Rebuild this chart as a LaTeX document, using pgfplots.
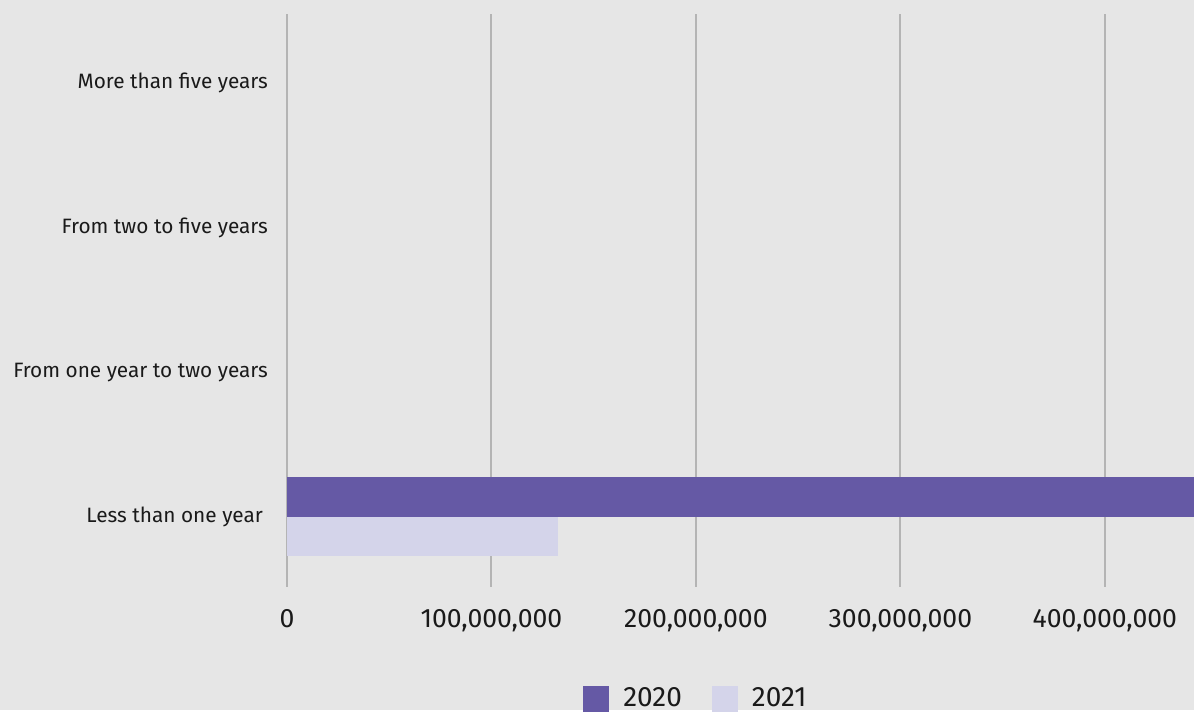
\documentclass[border=0pt]{standalone}
\usepackage{pgfplots}
\pgfplotsset{compat=1.18}
\usepackage{fontspec}
\setmainfont{Fira Sans}
\definecolor{bg}{HTML}{E6E6E6}
\definecolor{cA}{HTML}{6559A5}
\definecolor{cB}{HTML}{D4D4EA}
\definecolor{gridc}{HTML}{B4B4B4}
\definecolor{txt}{HTML}{1A1A1A}
\pgfplotstableread{
y v
0 460000000
}\dataA
\pgfplotstableread{
y v
0 132500000
}\dataB
\begin{document}
\begin{tikzpicture}
\fill[bg] (0,0) rectangle (597pt,355pt);
\begin{axis}[
  at={(143.5pt,61.5pt)}, anchor=south west,
  width=453.5pt, height=286.5pt, scale only axis,
  xmin=0, xmax=443500000, ymin=-0.485, ymax=3.48,
  xbar, bar width=0.273,
  axis line style={draw=none},
  major tick length=0pt,
  xmajorgrids, major grid style={gridc, line width=1pt},
  xtick={0,100000000,200000000,300000000,400000000},
  xticklabels={0,{100,000,000},{200,000,000},{300,000,000},{400,000,000}},
  scaled x ticks=false,
  ytick={0,1,2,3},
  yticklabels={Less than one year\hspace*{2.5pt}, From one year to two years, From two to five years, More than five years},
  xticklabel style={font=\fontsize{13.3}{15}\selectfont, text=txt, anchor=north, yshift=-7.5pt},
  yticklabel style={font=\fontsize{10.4}{12}\selectfont, text=txt, anchor=east, xshift=-6pt},
  legend style={at={(0.452,-0.195)}, anchor=center, draw=none, fill=none,
    font=\fontsize{14}{16}\selectfont, text=txt,
    /tikz/every even column/.append style={column sep=13pt}},
  legend columns=2,
  legend image code/.code={\fill[#1,draw=none] (0pt,-6.5pt) rectangle (13pt,6.5pt); \path (18pt,0pt);},
  clip=true,
]
\addplot[fill=cA, draw=none, bar shift=0.1365] table[x=v, y=y] {\dataA};
\addplot[fill=cB, draw=none, bar shift=-0.1365] table[x=v, y=y] {\dataB};
\legend{2020, 2021}
\end{axis}
\end{tikzpicture}
\end{document}
